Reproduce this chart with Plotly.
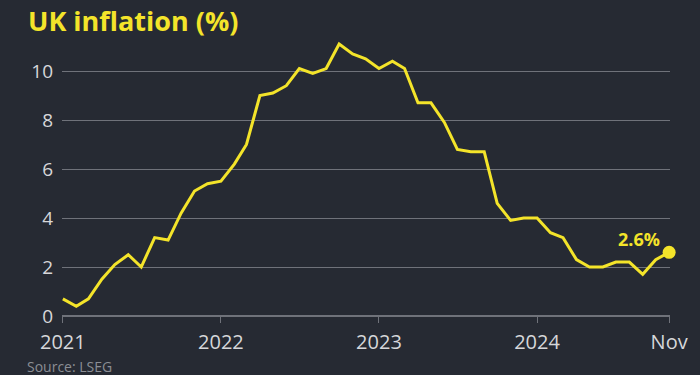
import plotly.graph_objects as go
import pandas as pd

months = pd.date_range("2021-01-01", "2024-11-01", freq="MS")
cpi = [0.7, 0.4, 0.7, 1.5, 2.1, 2.5, 2.0, 3.2, 3.1, 4.2, 5.1, 5.4,
       5.5, 6.2, 7.0, 9.0, 9.1, 9.4, 10.1, 9.9, 10.1, 11.1, 10.7, 10.5,
       10.1, 10.4, 10.1, 8.7, 8.7, 7.9, 6.8, 6.7, 6.7, 4.6, 3.9, 4.0,
       4.0, 3.4, 3.2, 2.3, 2.0, 2.0, 2.2, 2.2, 1.7, 2.3, 2.6]
x_tick_vals = ["2021-01-01", "2022-01-01", "2023-01-01", "2024-01-01", "2024-11-01"]
x_tick_text = ["2021", "2022", "2023", "2024", "Nov"]
y_tick_vals = [0, 2, 4, 6, 8, 10]
last_label = "2.6%"

BG = "#262a33"
YEL = "#f4e42a"
GRID = "#6f727a"
TXT = "#d6d7da"
FONT = "Open Sans"

fig = go.Figure()
fig.add_trace(go.Scatter(x=months, y=cpi, mode="lines",
                         line=dict(color=YEL, width=3), hoverinfo="skip"))
fig.add_trace(go.Scatter(x=[months[-1]], y=[cpi[-1]], mode="markers",
                         marker=dict(color=YEL, size=13), hoverinfo="skip",
                         cliponaxis=False))

fig.add_annotation(x=months[-1], y=cpi[-1], text="<b>" + last_label + "</b>",
                   showarrow=False, xanchor="right", yanchor="bottom",
                   xshift=-7, yshift=-1,
                   font=dict(family=FONT, size=18, color=YEL))

fig.add_annotation(xref="paper", yref="paper", x=-36/611, y=1 + 22/294,
                   text="<b>UK inflation (%)</b>", showarrow=False,
                   xanchor="left", yanchor="top", yshift=0,
                   font=dict(family=FONT, size=27, color=YEL))
fig.add_annotation(xref="paper", yref="paper", x=-37/611, y=-39/294,
                   text="Source: LSEG", showarrow=False,
                   xanchor="left", yanchor="top",
                   font=dict(family=FONT, size=14, color="#8b8e95"))

fig.update_layout(
    width=700, height=375,
    margin=dict(l=62, r=27, t=22, b=59),
    paper_bgcolor=BG, plot_bgcolor=BG,
    showlegend=False,
    font=dict(family=FONT, color=TXT),
    xaxis=dict(range=["2020-12-30", "2024-11-03"],
               tickvals=x_tick_vals, ticktext=x_tick_text,
               ticks="outside", ticklen=6, tickcolor=GRID, tickwidth=1,
               showgrid=False, showline=False, zeroline=False,
               tickfont=dict(size=20, color=TXT), ticklabelstandoff=2),
    yaxis=dict(range=[0, 12], tickvals=y_tick_vals,
               showgrid=True, gridcolor=GRID, gridwidth=1,
               zeroline=True, zerolinecolor=GRID, zerolinewidth=1.5,
               showline=False, ticks="", ticklabelstandoff=8,
               tickfont=dict(size=19, color=TXT)),
)

fig.write_html("out.html", config={"displayModeBar": False},
               post_script="document.body.style.margin='0';document.body.style.padding='0';document.body.style.background='#262a33';")
